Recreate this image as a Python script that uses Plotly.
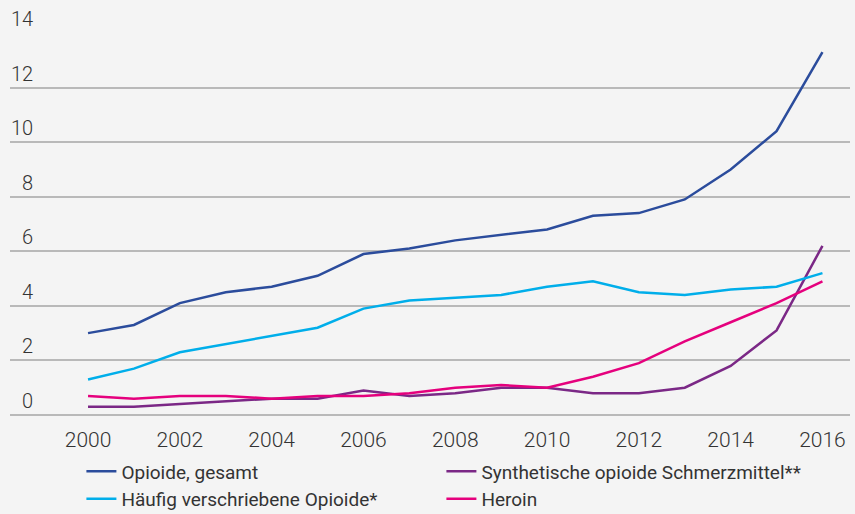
import plotly.graph_objects as go

years = list(range(2000, 2017))

opioide_gesamt = [3.0, 3.3, 4.1, 4.5, 4.7, 5.1, 5.9, 6.1, 6.4, 6.6, 6.8, 7.3, 7.4, 7.9, 9.0, 10.4, 13.3]
synthetische = [0.3, 0.3, 0.4, 0.5, 0.6, 0.6, 0.9, 0.7, 0.8, 1.0, 1.0, 0.8, 0.8, 1.0, 1.8, 3.1, 6.2]
haeufig = [1.3, 1.7, 2.3, 2.6, 2.9, 3.2, 3.9, 4.2, 4.3, 4.4, 4.7, 4.9, 4.5, 4.4, 4.6, 4.7, 5.2]
heroin = [0.7, 0.6, 0.7, 0.7, 0.6, 0.7, 0.7, 0.8, 1.0, 1.1, 1.0, 1.4, 1.9, 2.7, 3.4, 4.1, 4.9]

series_names = [
    "Opioide, gesamt",
    "Synthetische opioide Schmerzmittel**",
    "Häufig verschriebene Opioide*",
    "Heroin",
]
series_values = [opioide_gesamt, synthetische, haeufig, heroin]
series_colors = ["#2b4c9c", "#7b2886", "#00aeea", "#e5007d"]

y_ticks = [0, 2, 4, 6, 8, 10, 12, 14]
x_ticks = list(range(2000, 2017, 2))

fig = go.Figure()
for name, vals, col in zip(series_names, series_values, series_colors):
    fig.add_trace(go.Scatter(
        x=years, y=vals, mode="lines", name=name,
        line=dict(color=col, width=2.5),
    ))

# y tick labels sit above their gridlines, right-aligned at the left edge
for t in y_ticks:
    fig.add_annotation(
        x=0, xref="paper", y=t, yref="y",
        text=str(t), showarrow=False,
        xanchor="right", yanchor="middle", xshift=25, yshift=14,
        font=dict(family="Roboto", size=20, color="#333333", weight=300),
    )

fig.update_layout(
    width=855, height=514,
    paper_bgcolor="#f4f4f4", plot_bgcolor="#f4f4f4",
    margin=dict(l=10, r=5, t=33, b=99, autoexpand=False),
    showlegend=True,
    legend=dict(
        orientation="h", x=0.085, xanchor="left",
        yref="container", y=0.12, yanchor="top",
        entrywidth=315, entrywidthmode="pixels",
        font=dict(family="Roboto", size=19, color="#333333"),
        bgcolor="rgba(0,0,0,0)", itemwidth=30, tracegroupgap=0,
    ),
    xaxis=dict(
        range=[1998.3, 2016.6], tickvals=x_ticks,
        showgrid=False, zeroline=False, showline=False,
        ticks="outside", ticklen=6, tickcolor="rgba(0,0,0,0)",
        tickfont=dict(family="Roboto", size=21, color="#333333", weight=300),
    ),
    yaxis=dict(
        range=[0, 14], tickvals=y_ticks, showticklabels=False,
        showgrid=True, gridcolor="#b9b9b9", gridwidth=1.5,
        zeroline=True, zerolinecolor="#b9b9b9", zerolinewidth=1.5,
        showline=False, fixedrange=True,
    ),
)

fig.write_html("out.html")
